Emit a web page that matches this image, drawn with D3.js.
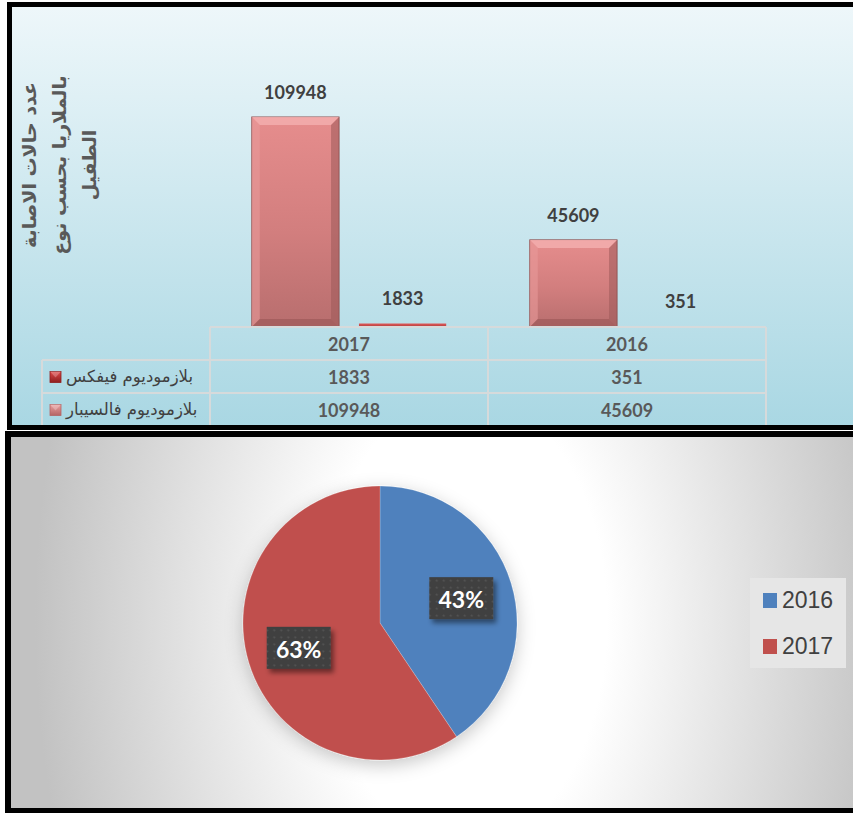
<!DOCTYPE html>
<html>
<head>
<meta charset="utf-8">
<script src="https://cdn.jsdelivr.net/npm/d3@7"></script>
<style>
  body { margin: 0; background: #fff; }
  svg { display: block; }
</style>
</head>
<body>
<svg id="chart" width="853" height="813"></svg>
<script>
// bar chart data
const categories = ["2017", "2016"]
const seriesNames = ["بلازموديوم فالسيبار", "بلازموديوم فيفكس"]
const falciparum = [109948, 45609]
const vivax = [1833, 351]
const yTitleLines = ["عدد حالات الاصابة", "بالملاريا بحسب نوع", "الطفيل"]

// pie chart data
const pieYears = ["2016", "2017"]
const pieValues = [43, 63]
const pieLabels = ["43%", "63%"]

const numFont = "Lato, 'Open Sans', sans-serif"
const arFont = "'DejaVu Sans', sans-serif"

var svg = d3.select("#chart")
var defs = svg.append("defs")

// ---------- gradients / filters ----------
var g1 = defs.append("linearGradient").attr("id", "topBg").attr("x1", 0).attr("y1", 0).attr("x2", 0).attr("y2", 1)
g1.append("stop").attr("offset", "0%").attr("stop-color", "#eef7fa")
g1.append("stop").attr("offset", "100%").attr("stop-color", "#a9d7e3")

var g2 = defs.append("radialGradient").attr("id", "botBg")
  .attr("gradientUnits", "userSpaceOnUse")
  .attr("cx", 465).attr("cy", 620).attr("r", 430)
  .attr("gradientTransform", "translate(465,620) scale(1,1.6) translate(-465,-620)")
g2.append("stop").attr("offset", "0%").attr("stop-color", "#ffffff")
g2.append("stop").attr("offset", "33%").attr("stop-color", "#ffffff")
g2.append("stop").attr("offset", "100%").attr("stop-color", "#c2c2c2")

var gb = defs.append("linearGradient").attr("id", "barPink").attr("x1", 0).attr("y1", 0).attr("x2", 0).attr("y2", 1)
gb.append("stop").attr("offset", "0%").attr("stop-color", "#e68d8d")
gb.append("stop").attr("offset", "55%").attr("stop-color", "#d27e7e")
gb.append("stop").attr("offset", "100%").attr("stop-color", "#b86e6e")

var gr = defs.append("linearGradient").attr("id", "barRed").attr("x1", 0).attr("y1", 0).attr("x2", 0).attr("y2", 1)
gr.append("stop").attr("offset", "0%").attr("stop-color", "#e05a5a")
gr.append("stop").attr("offset", "100%").attr("stop-color", "#b03a3a")

var pieShadow = defs.append("filter").attr("id", "pieShadow")
  .attr("x", "-30%").attr("y", "-30%").attr("width", "160%").attr("height", "160%")
pieShadow.append("feDropShadow").attr("dx", 0).attr("dy", 5).attr("stdDeviation", 9)
  .attr("flood-color", "#000").attr("flood-opacity", 0.22)

var boxShadow = defs.append("filter").attr("id", "boxShadow")
  .attr("x", "-20%").attr("y", "-20%").attr("width", "150%").attr("height", "160%")
boxShadow.append("feDropShadow").attr("dx", 3).attr("dy", 4).attr("stdDeviation", 2.5)
  .attr("flood-color", "#000").attr("flood-opacity", 0.45)

var pat = defs.append("pattern").attr("id", "dots").attr("patternUnits", "userSpaceOnUse")
  .attr("width", 7).attr("height", 7)
pat.append("rect").attr("width", 7).attr("height", 7).attr("fill", "#3f3f3f")
pat.append("circle").attr("cx", 3.5).attr("cy", 3.5).attr("r", 1.1).attr("fill", "#565656")

// ---------- panels ----------
svg.append("rect").attr("x", 9.5).attr("y", 4.5).attr("width", 870).attr("height", 423)
  .attr("fill", "url(#topBg)").attr("stroke", "#000").attr("stroke-width", 5)

svg.append("rect").attr("x", 8).attr("y", 434).attr("width", 870).attr("height", 377)
  .attr("fill", "url(#botBg)").attr("stroke", "#000").attr("stroke-width", 6)

// ---------- bar chart ----------
var plot = { left: 210, right: 766, base: 327 }
var rowH = 33

var x0 = d3.scaleBand().domain(categories).range([plot.left, plot.right]).padding(0)
var x1 = d3.scaleBand().domain([0, 1]).range([0, x0.bandwidth()])
  .paddingInner(0.186).paddingOuter(0.39)
var y = d3.scaleLinear().domain([0, 120000]).range([plot.base, plot.base - 229.2])

var series = [falciparum, vivax]
var bars = svg.append("g").attr("class", "bars")

series.forEach((vals, si) => {
  categories.forEach((cat, ci) => {
    var bx = x0(cat) + x1(si)
    var bw = x1.bandwidth()
    var by = y(vals[ci])
    var bh = plot.base - by
    var g = bars.append("g")
    if (si === 0) {
      g.append("rect").attr("x", bx).attr("y", by).attr("width", bw).attr("height", bh)
        .attr("fill", "url(#barPink)").attr("stroke", "#8c5252").attr("stroke-width", 1)
      var b = 8
      // bevel edges
      g.append("path").attr("d", `M${bx},${by}L${bx + bw},${by}L${bx + bw - b},${by + b}L${bx + b},${by + b}Z`)
        .attr("fill", "#f3aeae").attr("opacity", 0.85)
      g.append("path").attr("d", `M${bx},${by}L${bx + b},${by + b}L${bx + b},${by + bh - b}L${bx},${by + bh}Z`)
        .attr("fill", "#e79a9a").attr("opacity", 0.6)
      g.append("path").attr("d", `M${bx + bw},${by}L${bx + bw - b},${by + b}L${bx + bw - b},${by + bh - b}L${bx + bw},${by + bh}Z`)
        .attr("fill", "#9c5a5a").attr("opacity", 0.55)
      g.append("path").attr("d", `M${bx},${by + bh}L${bx + b},${by + bh - b}L${bx + bw - b},${by + bh - b}L${bx + bw},${by + bh}Z`)
        .attr("fill", "#9a5555").attr("opacity", 0.6)
    } else {
      g.append("rect").attr("x", bx).attr("y", by).attr("width", bw).attr("height", bh)
        .attr("fill", "url(#barRed)")
      g.append("line").attr("x1", bx).attr("x2", bx + bw).attr("y1", plot.base - 0.5).attr("y2", plot.base - 0.5)
        .attr("stroke", "#7a2a2a").attr("stroke-width", 1)
    }
    bars.append("text")
      .attr("x", bx + bw / 2)
      .attr("y", by - 18)
      .attr("text-anchor", "middle")
      .attr("font-family", numFont)
      .attr("font-weight", "bold")
      .attr("font-size", "18px")
      .attr("fill", "#404040")
      .text(vals[ci])
  })
})

// y axis title (rotated, 3 lines)
var yt = svg.append("text")
  .attr("transform", "translate(29,165) rotate(-90)")
  .attr("text-anchor", "middle")
  .attr("font-family", arFont)
  .attr("font-weight", "bold")
  .attr("font-size", "19px")
  .attr("fill", "#595959")
yTitleLines.forEach((t, i) => {
  yt.append("tspan").attr("x", 0).attr("y", i * 30).attr("dominant-baseline", "central").text(t)
})

// ---------- data table ----------
var table = svg.append("g").attr("class", "table")
var grid = "#d6dadb"
var tableLeft = 42
var tableBottom = 425

table.append("line").attr("x1", plot.left).attr("x2", plot.right).attr("y1", plot.base).attr("y2", plot.base)
  .attr("stroke", grid).attr("stroke-width", 2)
;[1, 2].forEach(r => {
  table.append("line").attr("x1", tableLeft).attr("x2", plot.right)
    .attr("y1", plot.base + r * rowH).attr("y2", plot.base + r * rowH)
    .attr("stroke", grid).attr("stroke-width", 2)
})
table.append("line").attr("x1", tableLeft).attr("x2", tableLeft).attr("y1", plot.base + rowH).attr("y2", tableBottom)
  .attr("stroke", grid).attr("stroke-width", 2)
categories.concat(["end"]).forEach((c, i) => {
  var xx = i < categories.length ? x0(c) : plot.right
  table.append("line").attr("x1", xx).attr("x2", xx).attr("y1", plot.base).attr("y2", tableBottom)
    .attr("stroke", grid).attr("stroke-width", 2)
})

// header row
categories.forEach(c => {
  table.append("text").attr("x", x0(c) + x0.bandwidth() / 2).attr("y", plot.base + rowH / 2)
    .attr("dominant-baseline", "central").attr("text-anchor", "middle")
    .attr("font-family", numFont).attr("font-weight", "bold").attr("font-size", "18px")
    .attr("fill", "#595959").text(c)
})

// rows: vivax first, then falciparum
var rows = [
  { name: seriesNames[1], vals: vivax, key: ["#e04a4a", "#8e1f1f"] },
  { name: seriesNames[0], vals: falciparum, key: ["#eba0a0", "#b46464"] }
]
rows.forEach((r, ri) => {
  var cy = plot.base + rowH * (ri + 1) + rowH / 2
  var kg = defs.append("linearGradient").attr("id", "key" + ri).attr("x1", 0).attr("y1", 0).attr("x2", 0).attr("y2", 1)
  kg.append("stop").attr("offset", "0%").attr("stop-color", r.key[0])
  kg.append("stop").attr("offset", "100%").attr("stop-color", r.key[1])
  table.append("rect").attr("x", 50).attr("y", cy - 5).attr("width", 11).attr("height", 11)
    .attr("fill", "url(#key" + ri + ")").attr("stroke", r.key[1]).attr("stroke-width", 0.8)
  table.append("path").attr("d", `M50,${cy - 5}L61,${cy - 5}L55.5,${cy + 1}Z`).attr("fill", "#fff").attr("opacity", 0.25)
  table.append("text").attr("x", 66).attr("y", cy)
    .attr("dominant-baseline", "central").attr("text-anchor", "start")
    .attr("font-family", arFont).attr("font-size", "16.5px").attr("fill", "#404040")
    .text(r.name)
  categories.forEach((c, ci) => {
    table.append("text").attr("x", x0(c) + x0.bandwidth() / 2).attr("y", cy)
      .attr("dominant-baseline", "central").attr("text-anchor", "middle")
      .attr("font-family", numFont).attr("font-weight", "bold").attr("font-size", "18px")
      .attr("fill", "#595959").text(r.vals[ci])
  })
})

// ---------- pie chart ----------
var pieCx = 380, pieCy = 623, pieR = 137
var pieColors = d3.scaleOrdinal().domain(pieYears).range(["#4f81bd", "#c0504d"])
var pie = d3.pie().sort(null).value(d => d.v)
var arcs = pie(pieYears.map((yr, i) => ({ yr: yr, v: pieValues[i], label: pieLabels[i] })))
var arc = d3.arc().innerRadius(0).outerRadius(pieR)
var labelArc = d3.arc().innerRadius(85 * 2).outerRadius(0)

var pg = svg.append("g").attr("transform", `translate(${pieCx},${pieCy})`)
pg.append("g").attr("filter", "url(#pieShadow)")
  .selectAll("path").data(arcs).join("path")
  .attr("d", arc)
  .attr("fill", d => pieColors(d.data.yr))
  .attr("stroke", "rgba(255,255,255,0.35)")
  .attr("stroke-width", 0.6)

var lg = pg.selectAll("g.lbl").data(arcs).join("g").attr("class", "lbl")
  .attr("transform", d => {
    var c = labelArc.centroid(d)
    return `translate(${c[0]},${c[1]})`
  })
lg.append("rect").attr("x", -32).attr("y", -21).attr("width", 64).attr("height", 42)
  .attr("fill", "url(#dots)").attr("filter", "url(#boxShadow)")
lg.append("text").attr("text-anchor", "middle").attr("dominant-baseline", "central")
  .attr("y", 1)
  .attr("font-family", numFont).attr("font-weight", "bold").attr("font-size", "23px")
  .attr("fill", "#fff").text(d => d.data.label)

// legend
var leg = svg.append("g").attr("transform", "translate(750,578)")
leg.append("rect").attr("width", 96).attr("height", 90).attr("fill", "#e6e6e6")
pieYears.forEach((yr, i) => {
  var row = leg.append("g").attr("transform", `translate(13,${15 + i * 46})`)
  row.append("rect").attr("width", 14).attr("height", 15).attr("fill", pieColors(yr))
  row.append("text").attr("x", 19).attr("y", 15)
    .attr("font-family", "'Liberation Sans', Arial, sans-serif").attr("font-size", "23px")
    .attr("fill", "#404040").text(yr)
})
</script>
</body>
</html>
